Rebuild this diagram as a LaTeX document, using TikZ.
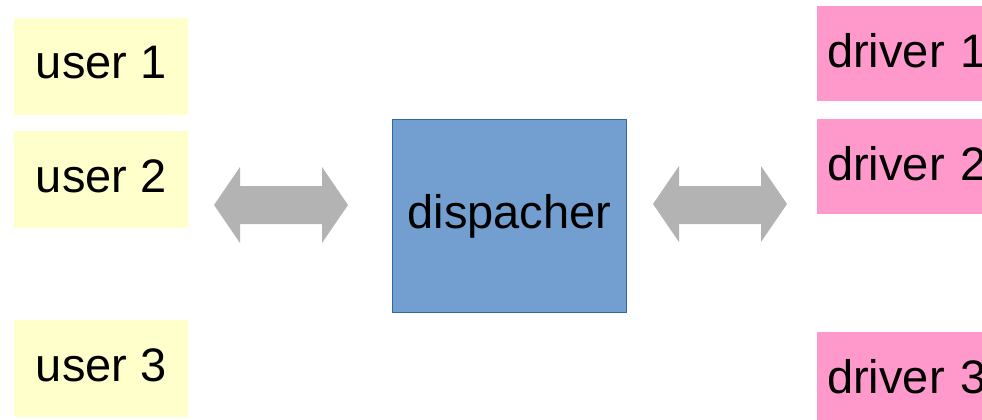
\documentclass[tikz,border=0pt]{standalone}
\usepackage{fontspec}
\setmainfont{Liberation Sans}
\definecolor{useryellow}{HTML}{FFFFCC}
\definecolor{driverpink}{HTML}{FF99CC}
\definecolor{dispblue}{HTML}{729FCF}
\definecolor{dispborder}{HTML}{3465A4}
\definecolor{arrowgray}{HTML}{B3B3B3}
\begin{document}
\begin{tikzpicture}[x=1pt,y=-1pt,
  txt/.style={font=\fontsize{47}{52}\selectfont, text=black, inner sep=0pt},
  userbox/.style={fill=useryellow, draw=none, minimum width=174pt, minimum height=97pt, anchor=north west, txt, text depth=8pt},
  driverbox/.style={fill=driverpink, draw=none, minimum width=200pt, minimum height=95pt, anchor=north west, txt, text depth=7pt, text width=180pt, align=left},
  dispbox/.style={fill=dispblue, draw=dispborder, line width=0.8pt, minimum width=234pt, minimum height=193pt, anchor=north west, txt},
  blockarrow/.style={fill=arrowgray, draw=none}]
\useasboundingbox (0,0) rectangle (982,420);
\clip (0,0) rectangle (982,420);
\node[userbox] (u1) at (14,18) {user 1};
\node[userbox] (u2) at (14,131) {user 2};
\node[userbox] (u3) at (14,320) {user 3};
\node[dispbox] (disp) at (392,119) {dispacher};
\node[driverbox] (d1) at (817,6) {driver 1};
\node[driverbox] (d2) at (817,119) {driver 2};
\node[driverbox] (d3) at (817,332) {driver 3};
% left double arrow
\fill[blockarrow] (214,205) -- (240,167) -- (240,186) -- (322,186) -- (322,167) -- (348,205)
  -- (322,243) -- (322,224) -- (240,224) -- (240,243) -- cycle;
% right double arrow
\fill[blockarrow] (653,204) -- (679,166) -- (679,186) -- (761,186) -- (761,166) -- (787,204)
  -- (761,242) -- (761,224) -- (679,224) -- (679,242) -- cycle;
\end{tikzpicture}
\end{document}
